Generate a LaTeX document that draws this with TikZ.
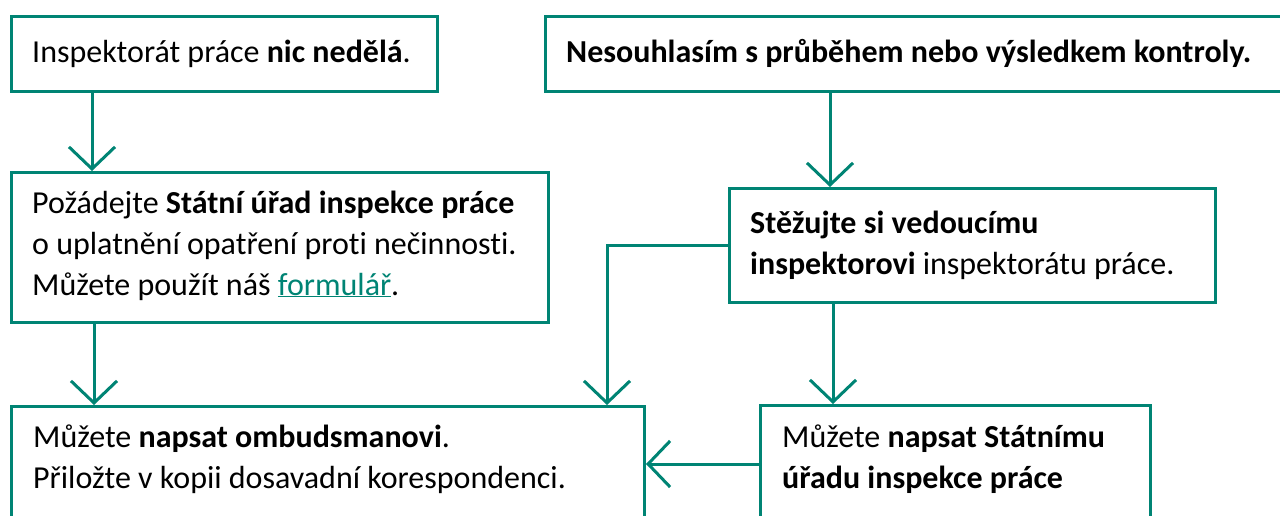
\documentclass[tikz,border=0pt]{standalone}
\usepackage{fontspec}
\setmainfont{Carlito}[Ligatures=NoCommon]
\usetikzlibrary{arrows.meta}
\definecolor{zelena}{RGB}{0,132,116}

\begin{document}
\begin{tikzpicture}[x=1pt,y=-1pt,
  box/.style={draw=zelena, line width=3pt, rectangle, anchor=north west, inner sep=0pt},
  txt/.style={anchor=base west, align=left, inner sep=0pt, font=\fontsize{32}{41}\selectfont},
  arr/.style={draw=zelena, line width=3pt, -{Straight Barb[length=22pt, width=46pt, line width=3pt]}}]
\useasboundingbox (0,0) rectangle (1280,516);
\node[box, minimum width=426pt, minimum height=75pt] (insp) at (10,15) {};
\node[box, minimum width=800pt, minimum height=75pt] (nesouhl) at (544,15) {};
\node[box, minimum width=537pt, minimum height=150pt] (pozad) at (10,171) {};
\node[box, minimum width=486pt, minimum height=114pt] (stez) at (728,187) {};
\node[box, minimum width=633pt, minimum height=200pt] (ombud) at (10,405) {};
\node[box, minimum width=390pt, minimum height=200pt] (sui) at (759,404) {};
\node[txt] (inspT) at (32,63) {Inspektorát práce \textbf{nic nedělá}.};
\node[txt] (nesouhlT) at (566,63) {\textbf{Nesouhlasím s průběhem nebo výsledkem kontroly.}};
\node[txt] (pozadT) at (32,295) {Požádejte \textbf{Státní úřad inspekce práce}\\
  o uplatnění opatření proti nečinnosti.\\
  Můžete použít náš \textcolor{zelena}{\underline{formulář}}.};
\node[txt] (stezT) at (750,274) {\textbf{Stěžujte si vedoucímu}\\
  \textbf{inspektorovi} inspektorátu práce.};
\node[txt] (ombudT) at (33,488) {Můžete \textbf{napsat ombudsmanovi}.\\
  Přiložte v kopii dosavadní korespondenci.};
\node[txt] (suiT) at (782,488) {Můžete \textbf{napsat Státnímu}\\
  \textbf{úřadu inspekce práce}};
\draw[arr] ([xshift=82pt]insp.south west) -- ([xshift=82pt]pozad.north west);
\draw[arr] ([xshift=84pt]pozad.south west) -- ([xshift=84pt]ombud.north west);
\draw[arr] ([xshift=102pt]stez.north west |- nesouhl.south) -- ([xshift=102pt]stez.north west);
\draw[arr] ([xshift=105pt]stez.south west) -- ([xshift=105pt]stez.south west |- sui.north);
\draw[arr] (stez.west) -| ([xshift=-39pt]ombud.north east);
\draw[arr] ([yshift=-60pt]sui.north west) -- ([yshift=-60pt]sui.north west -| ombud.east);
\end{tikzpicture}
\end{document}
